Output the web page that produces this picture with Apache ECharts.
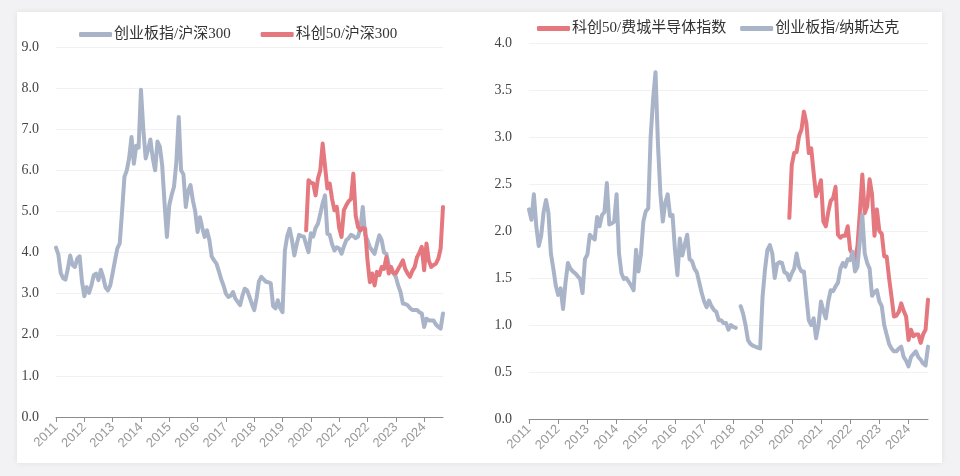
<!DOCTYPE html>
<html>
<head>
<meta charset="utf-8">
<script src="https://cdn.jsdelivr.net/npm/echarts@6/dist/echarts.min.js"></script>
<style>
html,body{margin:0;padding:0;background:#f2f2f4;width:960px;height:476px;overflow:hidden;}
#panel{position:absolute;left:17px;top:12px;width:925px;height:451px;background:#ffffff;box-shadow:0 0 6px rgba(0,0,0,0.08);}
#chart{position:absolute;left:0;top:0;width:960px;height:476px;}
</style>
</head>
<body>
<div id="panel"></div>
<div id="chart"></div>
<script>
// ---- data (monthly, 2011-01 .. 2024-09) ----
const years = ['2011','2012','2013','2014','2015','2016','2017','2018','2019','2020','2021','2022','2023','2024'];
const lastYearMonths = 9;

const leftNames = ['创业板指/沪深300', '科创50/沪深300'];
const rightNames = ['科创50/费城半导体指数', '创业板指/纳斯达克'];

// 创业板指/沪深300
const cybHs300 = [
4.12,3.95,3.50,3.38,3.34,3.60,3.93,3.70,3.65,3.85,3.91,3.30,
2.94,3.16,3.02,3.20,3.45,3.49,3.33,3.58,3.40,3.15,3.08,3.20,
3.50,3.81,4.10,4.22,5.00,5.84,6.00,6.30,6.81,6.16,6.60,6.55,
7.96,7.00,6.29,6.50,6.75,6.30,6.00,6.70,6.58,6.12,5.20,4.38,
5.15,5.40,5.60,6.20,7.30,6.00,5.90,5.11,5.50,5.64,5.27,5.00,
4.50,4.86,4.60,4.38,4.54,4.30,3.90,3.81,3.73,3.55,3.35,3.20,
3.00,2.92,2.95,3.04,2.88,2.80,2.72,2.95,3.12,3.08,2.92,2.75,
2.60,2.90,3.30,3.41,3.35,3.29,3.28,3.25,2.70,2.64,2.84,2.65,
2.55,4.05,4.40,4.58,4.30,3.93,4.20,4.43,4.40,4.39,4.20,4.01,
4.47,4.39,4.60,4.70,4.94,5.20,5.39,4.46,4.43,4.20,4.05,4.13,
4.10,3.97,4.15,4.30,4.35,4.43,4.40,4.35,4.39,4.60,5.11,4.43,
4.30,4.13,4.05,3.97,4.20,4.42,4.30,4.00,3.97,3.70,3.57,3.50,
3.41,3.20,3.04,2.76,2.75,2.72,2.65,2.60,2.60,2.60,2.55,2.52,
2.19,2.39,2.35,2.35,2.35,2.25,2.19,2.15,2.52
];

// 科创50/沪深300
const kc50Hs300 = [
null,null,null,null,null,null,null,null,null,null,null,null,
null,null,null,null,null,null,null,null,null,null,null,null,
null,null,null,null,null,null,null,null,null,null,null,null,
null,null,null,null,null,null,null,null,null,null,null,null,
null,null,null,null,null,null,null,null,null,null,null,null,
null,null,null,null,null,null,null,null,null,null,null,null,
null,null,null,null,null,null,null,null,null,null,null,null,
null,null,null,null,null,null,null,null,null,null,null,null,
null,null,null,null,null,null,null,null,null,null,4.54,5.76,
5.70,5.68,5.39,5.80,6.00,6.65,6.10,5.56,5.68,5.30,5.03,5.11,
4.60,4.38,5.03,5.15,5.25,5.30,5.92,4.90,4.62,4.54,4.60,4.58,
3.81,3.28,3.49,3.20,3.53,3.45,3.65,3.60,3.89,3.49,3.65,3.50,
3.49,3.60,3.70,3.81,3.60,3.49,3.41,3.55,3.65,3.89,4.00,4.14,
3.57,4.22,3.80,3.65,3.70,3.73,3.85,4.10,5.11
];

// 科创50/费城半导体指数
const kc50Sox = [
null,null,null,null,null,null,null,null,null,null,null,null,
null,null,null,null,null,null,null,null,null,null,null,null,
null,null,null,null,null,null,null,null,null,null,null,null,
null,null,null,null,null,null,null,null,null,null,null,null,
null,null,null,null,null,null,null,null,null,null,null,null,
null,null,null,null,null,null,null,null,null,null,null,null,
null,null,null,null,null,null,null,null,null,null,null,null,
null,null,null,null,null,null,null,null,null,null,null,null,
null,null,null,null,null,null,null,null,null,null,null,2.14,
2.70,2.83,2.84,3.01,3.08,3.27,3.15,2.83,2.88,2.62,2.37,2.45,
2.54,2.10,2.05,2.20,2.32,2.35,2.47,1.96,1.93,1.95,1.95,2.05,
1.80,1.75,1.69,1.84,2.20,2.60,2.19,2.26,2.55,2.39,1.95,2.23,
2.00,1.97,1.73,1.73,1.50,1.30,1.09,1.10,1.14,1.23,1.15,1.09,
0.84,0.95,0.88,0.90,0.90,0.81,0.90,0.95,1.27
];

// 创业板指/纳斯达克
const cybNasdaq = [
2.23,2.12,2.39,2.05,1.84,1.95,2.20,2.33,2.19,1.76,1.60,1.42,
1.32,1.39,1.17,1.45,1.66,1.60,1.57,1.55,1.52,1.49,1.34,1.70,
1.75,1.96,1.93,1.91,2.15,2.05,2.17,2.20,2.51,2.07,2.08,2.10,
2.39,1.76,1.55,1.49,1.50,1.46,1.42,1.37,1.80,1.57,1.75,2.10,
2.21,2.24,3.00,3.40,3.69,2.93,2.40,2.10,2.30,2.39,2.16,2.17,
1.80,1.53,1.92,1.74,1.85,1.96,1.70,1.68,1.60,1.56,1.45,1.34,
1.25,1.19,1.26,1.20,1.16,1.14,1.05,1.05,1.02,1.02,0.95,1.00,
0.98,0.97,null,1.20,1.12,1.00,0.84,0.80,0.78,0.77,0.76,0.75,
1.30,1.59,1.80,1.85,1.76,1.50,1.65,1.67,1.66,1.56,1.55,1.48,
1.55,1.60,1.76,1.62,1.57,1.57,1.30,1.05,1.00,1.07,0.86,1.00,
1.25,1.15,1.07,1.25,1.37,1.36,1.41,1.45,1.60,1.66,1.62,1.70,
1.69,1.78,1.57,1.62,1.90,2.17,1.76,1.66,1.60,1.31,1.35,1.37,
1.25,1.20,1.00,0.90,0.80,0.75,0.72,0.72,0.75,0.77,0.66,0.62,
0.56,0.66,0.69,0.72,0.66,0.63,0.59,0.57,0.77
];

// ---- build categories ----
const months = [];
years.forEach((y, yi) => {
  const n = yi === years.length - 1 ? lastYearMonths : 12;
  for (let m = 1; m <= n; m++) months.push(y + '-' + (m < 10 ? '0' + m : m));
});

const GRAY = '#a9b4c8';
const RED = '#e5787f';
const serif = '"Liberation Serif", "Noto Sans CJK SC", serif';
const isYearStart = (idx, val) => val.slice(5) === '01';

function xAxisCfg(gi) {
  return {
    type: 'category', gridIndex: gi, data: months, boundaryGap: false,
    axisLine: { lineStyle: { color: '#8c8c8c', width: 1 } },
    axisTick: { show: true, interval: isYearStart, length: 5, lineStyle: { color: '#8c8c8c' } },
    axisLabel: {
      interval: isYearStart, rotate: 45, margin: 8,
      color: '#9a9a9a', fontSize: 13, fontFamily: '"Liberation Sans", Arial, sans-serif',
      formatter: v => v.slice(0, 4)
    },
    splitLine: { show: false }
  };
}
function yAxisCfg(gi, max, interval) {
  return {
    type: 'value', gridIndex: gi, min: 0, max: max, interval: interval,
    axisLine: { show: false }, axisTick: { show: false },
    axisLabel: { color: '#444', fontSize: 14, fontFamily: serif, margin: 17,
      formatter: v => v.toFixed(1) },
    splitLine: { lineStyle: { color: '#f1f1f1', width: 1 } }
  };
}
function lineSeries(name, data, color, xi) {
  return {
    name: name, type: 'line', xAxisIndex: xi, yAxisIndex: xi, data: data,
    showSymbol: false, symbol: 'none', connectNulls: false, smooth: false,
    lineStyle: { color: color, width: 4, join: 'round', cap: 'round' },
    itemStyle: { color: color }, animation: false
  };
}

const chart = echarts.init(document.getElementById('chart'), null, { renderer: 'canvas' });
chart.setOption({
  animation: false,
  backgroundColor: 'transparent',
  grid: [
    { left: 56, right: 517, top: 47, bottom: 59 },
    { left: 529, right: 32, top: 43, bottom: 57 }
  ],
  legend: [
    { data: leftNames, left: 74, top: 22, itemGap: 30, itemWidth: 33, itemHeight: 5,
      icon: 'roundRect', textStyle: { color: '#333', fontSize: 15, fontFamily: serif, padding: [0, 0, 0, -3] } },
    { data: rightNames, left: 532, top: 16, itemGap: 14, itemWidth: 33, itemHeight: 5,
      icon: 'roundRect', textStyle: { color: '#333', fontSize: 15, fontFamily: serif, padding: [0, 0, 0, -3] } }
  ],
  xAxis: [xAxisCfg(0), xAxisCfg(1)],
  yAxis: [yAxisCfg(0, 9, 1), yAxisCfg(1, 4, 0.5)],
  series: [
    lineSeries(leftNames[0], cybHs300, GRAY, 0),
    lineSeries(leftNames[1], kc50Hs300, RED, 0),
    lineSeries(rightNames[0], kc50Sox, RED, 1),
    lineSeries(rightNames[1], cybNasdaq, GRAY, 1)
  ]
});
</script>
</body>
</html>
